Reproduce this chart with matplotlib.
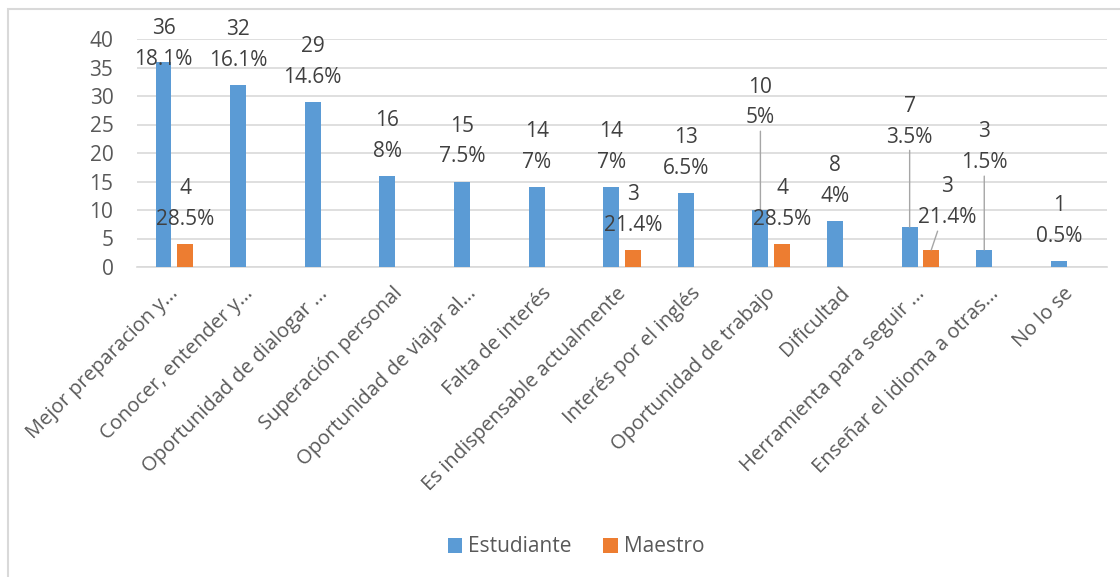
import matplotlib.pyplot as plt
import matplotlib.transforms as mtransforms
from matplotlib.patches import Rectangle
import numpy as np

plt.rcParams['font.family'] = ['Open Sans', 'DejaVu Sans']

categorias = ['Mejor preparacion y...', 'Conocer, entender y...', 'Oportunidad de dialogar ...',
              'Superación personal', 'Oportunidad de viajar al...', 'Falta de interés',
              'Es indispensable actualmente', 'Interés por el inglés', 'Oportunidad de trabajo',
              'Dificultad', 'Herramienta para seguir ...', 'Enseñar el idioma a otras...', 'No lo se']
estudiante = [36, 32, 29, 16, 15, 14, 14, 13, 10, 8, 7, 3, 1]
estudiante_pct = ['18.1%', '16.1%', '14.6%', '8%', '7.5%', '7%', '7%', '6.5%', '5%', '4%',
                  '3.5%', '1.5%', '0.5%']
maestro = [4, 0, 0, 0, 0, 0, 3, 0, 4, 0, 3, 0, 0]
maestro_pct = ['28.5%', None, None, None, None, None, '21.4%', None, '28.5%', None, '21.4%',
               None, None]

azul = '#5B9BD5'
naranja = '#ED7D31'
gris_texto = '#595959'
fs = 15

# label placement (pixel offsets from bar top), Excel moved a few of them
off_est = {0: (0, 17.5), 8: (0, 107.5), 10: (0, 105.5), 11: (0, 102.5)}
leader_est = [8, 10, 11]
off_mae = {10: (16, 47.5)}
leader_mae = [10]

fig = plt.figure(figsize=(11.2, 5.77), dpi=100)
ax = fig.add_axes([137 / 1120, 1 - 267 / 577, 970 / 1120, 228 / 577])

x = np.arange(len(categorias))
w = 0.214
d = 0.145
ax.bar(x - d, estudiante, w, color=azul, label='Estudiante', zorder=3)
ax.bar(x + d, maestro, w, color=naranja, label='Maestro', zorder=3)

def etiqueta(xi, val, pct, off, leader):
    dx, dy = off
    props = None
    if leader:
        props = dict(arrowstyle='-', color='#A6A6A6', lw=1, shrinkA=0, shrinkB=0)
    ax.annotate(f'{val}\n{pct}', xy=(xi, val), xytext=(dx, dy), textcoords='offset pixels',
                ha='center', va='center', fontsize=fs, color='#404040', linespacing=1.62,
                arrowprops=props, zorder=4, annotation_clip=False)

for i, v in enumerate(estudiante):
    etiqueta(x[i] - d, v, estudiante_pct[i], off_est.get(i, (0, 40)), i in leader_est)
for i, v in enumerate(maestro):
    if maestro_pct[i] is not None:
        etiqueta(x[i] + d, v, maestro_pct[i], off_mae.get(i, (0, 40)), i in leader_mae)

ax.set_xlim(-0.5, len(categorias) - 0.5)
ax.set_ylim(0, 40)
ax.set_yticks(range(0, 41, 5))
ax.yaxis.grid(True, color='#D9D9D9', lw=1.2, zorder=0)
ax.set_axisbelow(True)
for s in ['top', 'right', 'left']:
    ax.spines[s].set_visible(False)
ax.spines['bottom'].set_color('#D9D9D9')
ax.spines['bottom'].set_linewidth(1.2)
ax.tick_params(axis='y', length=0, pad=17, labelsize=fs, labelcolor=gris_texto)
ax.tick_params(axis='x', length=0, pad=17, labelsize=14.5, labelcolor=gris_texto)

ax.set_xticks(x)
ax.set_xticklabels(categorias, rotation=45, ha='right', rotation_mode='anchor', va='center')
shift = mtransforms.ScaledTranslation(1 / 100, 0, fig.dpi_scale_trans)
for lbl in ax.get_xticklabels():
    lbl.set_transform(lbl.get_transform() + shift)

leg = ax.legend(loc='center', bbox_to_anchor=(576 / 1120, 1 - 547 / 577),
                bbox_transform=fig.transFigure, ncol=2, frameon=False, fontsize=fs,
                handlelength=0.7, handleheight=0.7, handletextpad=0.3, columnspacing=1.5)
for t in leg.get_texts():
    t.set_color(gris_texto)

fig.patches.append(Rectangle((8 / 1120, -0.1), 1.2, 1 - 9 / 577 + 0.1, transform=fig.transFigure,
                             fill=False, edgecolor='#D9D9D9', lw=1.5))

fig.savefig('out.png', dpi=100)
